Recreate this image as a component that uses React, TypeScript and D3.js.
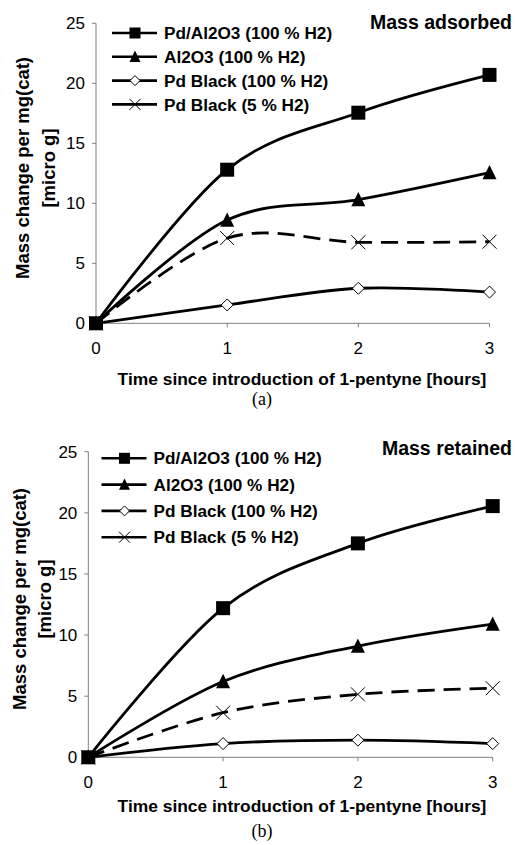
import React from "react";
import * as d3 from "d3";

// hours since introduction of 1-pentyne
const hours = [0, 1, 2, 3];
const yTicks = [0, 5, 10, 15, 20, 25];
const xTicks = [0, 1, 2, 3];

const seriesNames = [
  "Pd/Al2O3 (100 % H2)",
  "Al2O3 (100 % H2)",
  "Pd Black (100 % H2)",
  "Pd Black (5 % H2)",
];

// (a) mass adsorbed
const adsPdAl2O3 = [0, 12.8, 17.55, 20.7];
const adsAl2O3 = [0, 8.6, 10.3, 12.55];
const adsPdBlack100 = [0, 1.53, 2.92, 2.6];
const adsPdBlack5 = [0, 7.1, 6.75, 6.8];

// (b) mass retained
const retPdAl2O3 = [0, 12.2, 17.5, 20.55];
const retAl2O3 = [0, 6.2, 9.1, 10.9];
const retPdBlack100 = [0, 1.12, 1.4, 1.12];
const retPdBlack5 = [0, 3.65, 5.15, 5.65];

const markers = ["square", "triangle", "diamond", "cross"];

const FONT = "'Liberation Sans', Arial, sans-serif";

function Marker({ kind, x, y, s }: { kind: string; x: number; y: number; s: number }) {
  if (kind === "square")
    return <rect x={x - s / 2} y={y - s / 2} width={s} height={s} fill="#000" />;
  if (kind === "triangle") {
    const h = s * 0.95;
    return (
      <path
        d={`M${x},${y - h / 2 - 1} L${x + s / 2},${y + h / 2} L${x - s / 2},${y + h / 2} Z`}
        fill="#000"
      />
    );
  }
  if (kind === "diamond") {
    const r = s / 2;
    return (
      <path
        d={`M${x},${y - r} L${x + r},${y} L${x},${y + r} L${x - r},${y} Z`}
        fill="#fff"
        stroke="#000"
        strokeWidth={1}
      />
    );
  }
  const r = s / 2;
  return (
    <path
      d={`M${x - r},${y - r} L${x + r},${y + r} M${x - r},${y + r} L${x + r},${y - r}`}
      stroke="#000"
      strokeWidth={1}
      fill="none"
    />
  );
}

type PanelProps = {
  top: number;
  x0: number;
  x3: number;
  y0: number;
  y25: number;
  title: string;
  caption: string;
  series: number[][];
  legendX: number;
  legendY: number;
  legendStep: number;
  xLabelY: number;
  xTickY: number;
  captionY: number;
  yLabelCy: number;
  yLabelX: [number, number];
};

function Panel(p: PanelProps) {
  const x = d3.scaleLinear().domain([0, 3]).range([p.x0, p.x3]);
  const y = d3.scaleLinear().domain([0, 25]).range([p.y0, p.y25]);
  const line = d3
    .line<number>()
    .x((_, i) => x(hours[i]))
    .y((d) => y(d))
    .curve(d3.curveCardinal.tension(0));
  const sizes = [14, 14, 12, 14];
  // markers drawn last-series-first so the filled squares sit on top at the origin
  const order = p.series.map((_, i) => i).reverse();

  return (
    <g>
      {/* axes */}
      <line x1={p.x0} x2={p.x0} y1={p.y25} y2={p.y0} stroke="#808080" strokeWidth={1} />
      <line x1={p.x0} x2={p.x3} y1={p.y0} y2={p.y0} stroke="#808080" strokeWidth={1} />
      {yTicks.map((t) => (
        <g key={t}>
          <line x1={p.x0 - 4} x2={p.x0} y1={y(t)} y2={y(t)} stroke="#808080" />
          <text
            x={p.x0 - 11}
            y={y(t)}
            dy="0.35em"
            textAnchor="end"
            fontSize={17}
            fontFamily={FONT}
          >
            {t}
          </text>
        </g>
      ))}
      {xTicks.map((t) => (
        <g key={t}>
          <line x1={x(t)} x2={x(t)} y1={p.y0} y2={p.y0 + 4} stroke="#808080" />
          <text x={x(t)} y={p.xTickY} dy="0.35em" textAnchor="middle" fontSize={17} fontFamily={FONT}>
            {t}
          </text>
        </g>
      ))}

      {/* series lines */}
      {p.series.map((vals, si) => (
        <path
          key={si}
          d={line(vals) || ""}
          fill="none"
          stroke="#000"
          strokeWidth={2.8}
          strokeDasharray={si === 3 ? "17 9" : undefined}
        />
      ))}
      {/* series markers */}
      {order.map((si) => (
        <g key={si}>
          {p.series[si].map((v, i) => (
            <Marker key={i} kind={markers[si]} x={x(hours[i])} y={y(v)} s={sizes[si]} />
          ))}
        </g>
      ))}

      {/* legend */}
      {seriesNames.map((name, i) => {
        const ly = p.legendY + i * p.legendStep;
        const lx = p.legendX;
        return (
          <g key={name}>
            <line x1={lx} x2={lx + 45} y1={ly} y2={ly} stroke="#000" strokeWidth={2.6} />
            <Marker kind={markers[i]} x={lx + 23} y={ly} s={i === 2 ? 10 : 11} />
            <text
              x={lx + 52}
              y={ly}
              dy="0.36em"
              fontSize={17.2}
              fontWeight="bold"
              fontFamily={FONT}
            >
              {name}
            </text>
          </g>
        );
      })}

      <text
        x={512}
        y={p.top}
        dy="0.36em"
        textAnchor="end"
        fontSize={19.5}
        fontWeight="bold"
        fontFamily={FONT}
      >
        {p.title}
      </text>

      {/* axis titles */}
      <text
        x={302}
        y={p.xLabelY}
        dy="0.36em"
        textAnchor="middle"
        fontSize={17.4}
        fontWeight="bold"
        fontFamily={FONT}
      >
        Time since introduction of 1-pentyne [hours]
      </text>
      <text
        transform={`translate(${p.yLabelX[0]},${p.yLabelCy}) rotate(-90)`}
        textAnchor="middle"
        dy="0.36em"
        fontSize={18.5}
        fontWeight="bold"
        fontFamily={FONT}
      >
        Mass change per mg(cat)
      </text>
      <text
        transform={`translate(${p.yLabelX[1]},${p.yLabelCy}) rotate(-90)`}
        textAnchor="middle"
        dy="0.36em"
        fontSize={18.5}
        fontWeight="bold"
        fontFamily={FONT}
      >
        [micro g]
      </text>

      <text
        x={262}
        y={p.captionY}
        dy="0.35em"
        textAnchor="middle"
        fontSize={18}
        fontFamily="'Liberation Serif', 'Times New Roman', serif"
      >
        {p.caption}
      </text>
    </g>
  );
}

export default function App() {
  return (
    <svg
      width={515}
      height={845}
      style={{ position: "absolute", left: 0, top: 0, background: "#fff" }}
    >
      <rect width={515} height={845} fill="#fff" />
      <Panel
        top={22}
        x0={96}
        x3={489.5}
        y0={323.3}
        y25={23.3}
        title="Mass adsorbed"
        caption="(a)"
        series={[adsPdAl2O3, adsAl2O3, adsPdBlack100, adsPdBlack5]}
        legendX={112}
        legendY={33}
        legendStep={23.8}
        xTickY={348}
        xLabelY={379}
        captionY={399}
        yLabelCy={168}
        yLabelX={[22, 48]}
      />
      <Panel
        top={448}
        x0={88.3}
        x3={492.7}
        y0={757.3}
        y25={451.7}
        title="Mass retained"
        caption="(b)"
        series={[retPdAl2O3, retAl2O3, retPdBlack100, retPdBlack5]}
        legendX={101.5}
        legendY={458.3}
        legendStep={26.3}
        xTickY={781.7}
        xLabelY={806}
        captionY={831}
        yLabelCy={599}
        yLabelX={[19, 44]}
      />
    </svg>
  );
}
